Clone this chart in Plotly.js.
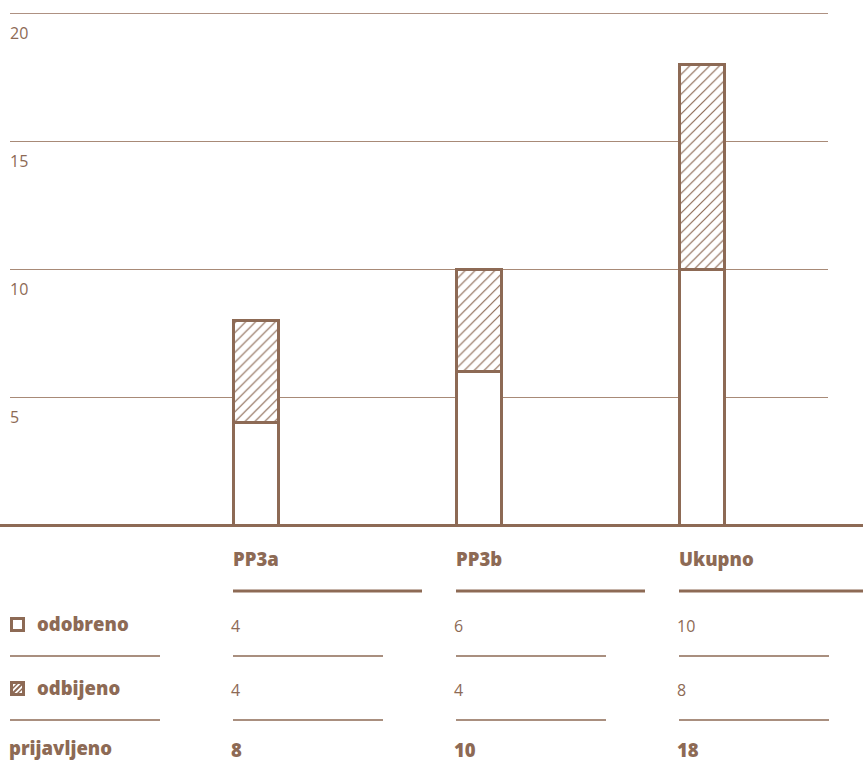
<!DOCTYPE html>
<html>
<head>
<meta charset="utf-8">
<script src="https://cdn.plot.ly/plotly-3.0.1.min.js"></script>
<style>
html,body{margin:0;padding:0;background:#fff;}
#chart{width:863px;height:762px;}
</style>
</head>
<body>
<div id="chart"></div>
<script>
// ---- data ----
const categories = ['PP3a', 'PP3b', 'Ukupno'];
const odobreno = [4, 6, 10];
const odbijeno = [4, 4, 8];
const prijavljeno = [8, 10, 18];
const rowLabels = ['odobreno', 'odbijeno', 'prijavljeno'];
const yTicks = [5, 10, 15, 20];

// ---- style ----
const BROWN = '#8d6a55';
const GRID = '#a88a77';
const FONT = '"Open Sans", Lato, sans-serif';
const W = 863, H = 762;
const L = 10, R = 828, T = 13, B = 525;
const px = x => (x - L) / (R - L);
const py = y => (B - y) / (B - T);

const barWidth = 0.206;
const idx = categories.map((c, i) => i);

const traces = [
  {
    type: 'bar', name: rowLabels[0], x: idx, y: odobreno, width: barWidth,
    marker: {color: '#ffffff', line: {color: BROWN, width: 3}},
    hoverinfo: 'skip', showlegend: false
  },
  {
    type: 'bar', name: rowLabels[1], x: idx, y: odbijeno, width: barWidth,
    marker: {color: '#ffffff', line: {color: BROWN, width: 3},
      pattern: {shape: '/', fgcolor: BROWN, bgcolor: '#ffffff', size: 7, solidity: 0.17}},
    hoverinfo: 'skip', showlegend: false
  }
];

const shapes = [];
const annotations = [];

// y tick labels below their grid lines
yTicks.forEach(v => {
  annotations.push({xref: 'paper', yref: 'y', x: px(8), y: v, yshift: -20, text: String(v),
    showarrow: false, xanchor: 'left', yanchor: 'middle',
    font: {family: FONT, size: 16, weight: 400, color: BROWN}});
});

// baseline
shapes.push({type: 'line', xref: 'paper', yref: 'paper', x0: px(0), x1: px(W), y0: py(525.5), y1: py(525.5),
  line: {color: BROWN, width: 3}, layer: 'above'});
// top grid line slightly stronger
shapes.push({type: 'line', xref: 'paper', yref: 'y', x0: 0, x1: 1, y0: 20, y1: 20,
  line: {color: '#936d58', width: 1.3}, layer: 'below'});

// table geometry
const colX = [233, 456, 679];
const colEnd = [422, 645, 863];
const rowY = [625, 689, 749];
const headerY = 558;

categories.forEach((c, i) => {
  annotations.push({xref: 'paper', yref: 'paper', x: px(colX[i] - 2), y: py(headerY), text: c,
    showarrow: false, xanchor: 'left', yanchor: 'middle',
    font: {family: FONT, size: 18.5, weight: 800, color: BROWN}});
  shapes.push({type: 'line', xref: 'paper', yref: 'paper', x0: px(colX[i]), x1: px(colEnd[i]),
    y0: py(591), y1: py(591), line: {color: BROWN, width: 3}});
  [656, 720].forEach(ly => {
    shapes.push({type: 'line', xref: 'paper', yref: 'paper', x0: px(colX[i]), x1: px(colX[i] + 150),
      y0: py(ly), y1: py(ly), line: {color: BROWN, width: 1.4}});
  });
  const vals = [odobreno[i], odbijeno[i], prijavljeno[i]];
  vals.forEach((v, r) => {
    annotations.push({xref: 'paper', yref: 'paper', x: px(colX[i] - 4), y: py(rowY[r] + (r < 2 ? 1 : 0)), text: String(v),
      showarrow: false, xanchor: 'left', yanchor: 'middle',
      font: {family: FONT, size: r === 2 ? 18.5 : 16, weight: r === 2 ? 800 : 400, color: BROWN}});
  });
});
[656, 720].forEach(ly => {
  shapes.push({type: 'line', xref: 'paper', yref: 'paper', x0: px(10), x1: px(160),
    y0: py(ly), y1: py(ly), line: {color: BROWN, width: 1.4}});
});

// row labels
rowLabels.forEach((t, r) => {
  annotations.push({xref: 'paper', yref: 'paper', x: px(r < 2 ? 35 : 7), y: py(rowY[r] - 2), text: t,
    showarrow: false, xanchor: 'left', yanchor: 'middle',
    font: {family: FONT, size: 18.5, weight: 800, color: BROWN}});
});

// legend icons
shapes.push({type: 'rect', xref: 'paper', yref: 'paper', x0: px(11.5), x1: px(23.5), y0: py(618.5), y1: py(630.5),
  line: {color: BROWN, width: 3}, fillcolor: '#ffffff'});
shapes.push({type: 'rect', xref: 'paper', yref: 'paper', x0: px(11.5), x1: px(23.5), y0: py(682.5), y1: py(694.5),
  line: {color: BROWN, width: 3}, fillcolor: '#ffffff'});
shapes.push({type: 'line', xref: 'paper', yref: 'paper', x0: px(12), x1: px(23), y0: py(694), y1: py(683),
  line: {color: BROWN, width: 2}});
shapes.push({type: 'line', xref: 'paper', yref: 'paper', x0: px(12), x1: px(18), y0: py(689), y1: py(683),
  line: {color: BROWN, width: 1.5}});
shapes.push({type: 'line', xref: 'paper', yref: 'paper', x0: px(17), x1: px(23), y0: py(694), y1: py(688),
  line: {color: BROWN, width: 1.5}});

const layout = {
  width: W, height: H,
  margin: {l: L, r: W - R, t: T, b: H - B, pad: 0},
  paper_bgcolor: '#ffffff', plot_bgcolor: '#ffffff',
  barmode: 'stack',
  showlegend: false,
  xaxis: {
    type: 'linear', range: [(L - 256) / 223, (R - 256) / 223],
    showgrid: false, zeroline: false, showticklabels: false, ticks: '', showline: false, fixedrange: true
  },
  yaxis: {
    range: [0, 20], tickvals: yTicks,
    showgrid: true, gridcolor: GRID, gridwidth: 1,
    zeroline: false, showline: false, ticks: '', showticklabels: false,
    fixedrange: true
  },
  shapes: shapes,
  annotations: annotations
};

Plotly.newPlot('chart', traces, layout, {displayModeBar: false, staticPlot: true});
</script>
</body>
</html>
